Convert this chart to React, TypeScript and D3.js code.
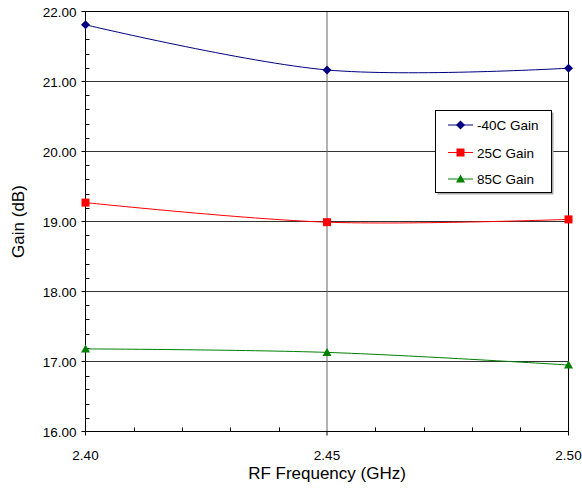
import React from "react";
import * as d3 from "d3";

const freqs = [2.4, 2.45, 2.5];
const gainM40 = [21.81, 21.165, 21.19];
const gain25 = [19.27, 18.99, 19.03];
const gain85 = [17.18, 17.13, 16.95];
const seriesNames = ["-40C Gain", "25C Gain", "85C Gain"];
const seriesColors = ["#000080", "#FF0000", "#008000"];
const yTicks = [16, 17, 18, 19, 20, 21, 22];
const xTicks = [2.4, 2.45, 2.5];

const W = 582;
const H = 488;
const L = 85.5;
const R = 568.5;
const T = 11.5;
const B = 431.5;

export default function App() {
  const x = d3.scaleLinear().domain([2.4, 2.5]).range([L, R]);
  const y = d3.scaleLinear().domain([16, 22]).range([B, T]);
  const series = [gainM40, gain25, gain85];
  const line = d3
    .line<number>()
    .x((_, i) => x(freqs[i]))
    .y((d) => y(d))
    .curve(d3.curveCardinal.tension(0));
  const yMinor = d3.range(16, 22.001, 0.2).filter((v) => Math.abs(v - Math.round(v)) > 0.01);
  const xMinor = d3.range(2.4, 2.5001, 0.01).filter((v) => !xTicks.some((t) => Math.abs(t - v) < 0.001));
  const font = "'Liberation Sans', Arial, sans-serif";

  const marker = (i: number, cx: number, cy: number, key: string) => {
    const c = seriesColors[i];
    if (i === 0)
      return <path key={key} d={`M${cx},${cy - 4.5}L${cx + 4.5},${cy}L${cx},${cy + 4.5}L${cx - 4.5},${cy}Z`} fill={c} />;
    if (i === 1) return <rect key={key} x={cx - 4} y={cy - 4} width={8} height={8} fill={c} />;
    return <path key={key} d={`M${cx},${cy - 4.5}L${cx + 4.5},${cy + 3.5}L${cx - 4.5},${cy + 3.5}Z`} fill={c} />;
  };

  const legendX = 435.5;
  const legendY = 110.5;
  const legendW = 116;
  const legendH = 82;
  const legendRows = [125, 152.5, 179];

  return (
    <svg width={W} height={H} style={{ position: "absolute", left: 0, top: 0, background: "#fff" }} fontFamily={font}>
      <rect x={0} y={0} width={W} height={H} fill="#fff" />
      {yTicks.map((t) => (
        <line key={"gy" + t} x1={L} x2={R} y1={y(t)} y2={y(t)} stroke="#333" strokeWidth={1} />
      ))}
      <line x1={x(2.45)} x2={x(2.45)} y1={T} y2={B} stroke="#666" strokeWidth={1} />
      <line x1={R} x2={R} y1={T} y2={B} stroke="#000" strokeWidth={1} />
      <line x1={L} x2={R} y1={T} y2={T} stroke="#000" strokeWidth={1} />
      <line x1={L} x2={L} y1={T} y2={B} stroke="#000" strokeWidth={1} />
      <line x1={L} x2={R} y1={B} y2={B} stroke="#000" strokeWidth={1} />
      {yTicks.map((t) => (
        <line key={"ty" + t} x1={L - 4} x2={L} y1={y(t)} y2={y(t)} stroke="#000" />
      ))}
      {yMinor.map((t) => (
        <line key={"my" + t} x1={L} x2={L + 4} y1={Math.round(y(t)) + 0.5} y2={Math.round(y(t)) + 0.5} stroke="#000" />
      ))}
      {xTicks.map((t) => (
        <line key={"tx" + t} x1={x(t)} x2={x(t)} y1={B} y2={B + 4} stroke="#000" />
      ))}
      {xMinor.map((t) => (
        <line key={"mx" + t} x1={Math.round(x(t)) + 0.5} x2={Math.round(x(t)) + 0.5} y1={B - 4} y2={B} stroke="#000" />
      ))}
      {yTicks.map((t) => (
        <text key={"ly" + t} x={L - 9} y={y(t) + 5} textAnchor="end" fontSize={13.5} fill="#000">
          {t.toFixed(2)}
        </text>
      ))}
      {xTicks.map((t) => (
        <text key={"lx" + t} x={x(t)} y={460} textAnchor="middle" fontSize={13.5} fill="#000">
          {t.toFixed(2)}
        </text>
      ))}
      <text x={(L + R) / 2} y={479} textAnchor="middle" fontSize={17} fill="#000">
        RF Frequency (GHz)
      </text>
      <text transform={`translate(24,${(T + B) / 2}) rotate(-90)`} textAnchor="middle" fontSize={17} fill="#000">
        Gain (dB)
      </text>
      {series.map((s, i) => (
        <path key={"s" + i} d={line(s) || ""} fill="none" stroke={seriesColors[i]} strokeWidth={1} />
      ))}
      {series.map((s, i) => s.map((v, j) => marker(i, x(freqs[j]), y(v), `m${i}-${j}`)))}
      <rect x={legendX + 2} y={legendY + 2} width={legendW} height={legendH} fill="#aaa" />
      <rect x={legendX} y={legendY} width={legendW} height={legendH} fill="#fff" stroke="#000" strokeWidth={1} />
      {seriesNames.map((n, i) => (
        <g key={"lg" + i}>
          <line x1={448} x2={473} y1={legendRows[i]} y2={legendRows[i]} stroke={seriesColors[i]} strokeWidth={1} />
          {marker(i, 460.5, legendRows[i], "lm" + i)}
          <text x={477} y={legendRows[i] + 5} fontSize={13.5} fill="#000">
            {n}
          </text>
        </g>
      ))}
    </svg>
  );
}
